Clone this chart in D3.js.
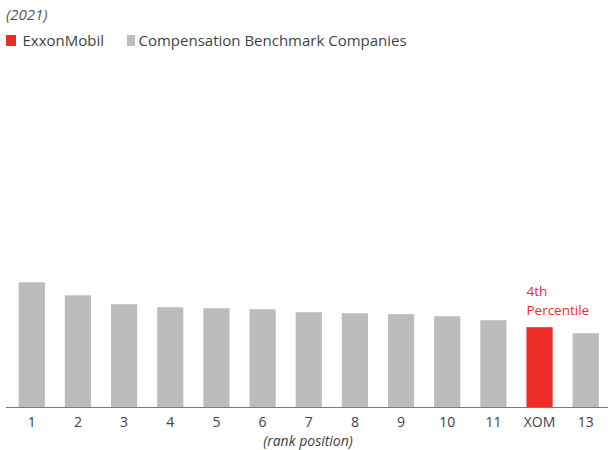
<!DOCTYPE html>
<html><head><meta charset="utf-8">
<script src="https://cdn.jsdelivr.net/npm/d3@7"></script>
<style>body{margin:0;background:#fff;} svg{display:block;font-family:"Open Sans",sans-serif;}</style>
</head><body>
<svg id="c" width="608" height="450"></svg>
<script>
const categories = ["1","2","3","4","5","6","7","8","9","10","11","XOM","13"];
const values = [125,112,103,100,99,98,95,94,93,91,87,80,74];
const highlight = "XOM";
const legendLabels = ["ExxonMobil","Compensation Benchmark Companies"];
const titleText = "(2021)";
const axisTitle = "(rank position)";
const annotation = ["4th","Percentile"];

const red = "#ec2d27", gray = "#bcbcbe", textCol = "#3f3f46";
const svg = d3.select("#c");
const baseline = 407;
const x = d3.scaleBand().domain(categories).range([6, 611.5]).paddingInner(0.4325).paddingOuter(0.275);
const y = d3.scaleLinear().domain([0, 125]).range([baseline, 282.3]);

svg.append("text").attr("x", 6).attr("y", 20).attr("font-style","italic").attr("font-size",15).attr("fill","#555").text(titleText);

const leg = [{c:red,x:6,w:10,tx:22.5},{c:gray,x:127,w:8,tx:138.5}];
leg.forEach((l,i)=>{
  svg.append("rect").attr("x",l.x).attr("y",35).attr("width",l.w).attr("height",11).attr("fill",l.c);
  svg.append("text").attr("x",l.tx).attr("y",45.7).attr("font-size",15).attr("fill",textCol).text(legendLabels[i]);
});

svg.selectAll("rect.bar").data(categories).join("rect").attr("class","bar")
  .attr("x", d=>x(d)).attr("width", x.bandwidth())
  .attr("y", (d,i)=>y(values[i])).attr("height",(d,i)=>baseline-y(values[i]))
  .attr("fill", d=> d===highlight ? red : gray);

svg.append("line").attr("x1",6).attr("x2",608).attr("y1",baseline+0.5).attr("y2",baseline+0.5).attr("stroke","#7a7a7a").attr("stroke-width",1);

const ax = svg.append("g").attr("transform",`translate(0,${baseline})`)
  .call(d3.axisBottom(x).tickSize(0).tickPadding(10));
ax.select(".domain").remove();
ax.selectAll("text").attr("font-size",14).attr("fill",textCol).attr("font-family","Open Sans, sans-serif");

svg.append("text").attr("x", 308).attr("y",445.5).attr("text-anchor","middle")
  .attr("font-style","italic").attr("font-size",14).attr("fill",textCol).text(axisTitle);

const hx = x(highlight);
const ann = svg.append("text").attr("x",hx).attr("y",296).attr("font-size",13.5).attr("fill",red);
annotation.forEach((t,i)=>{
  ann.append("tspan").attr("x",hx).attr("dy", i===0 ? 0 : 18.5).text(t);
});
</script>
</body></html>
